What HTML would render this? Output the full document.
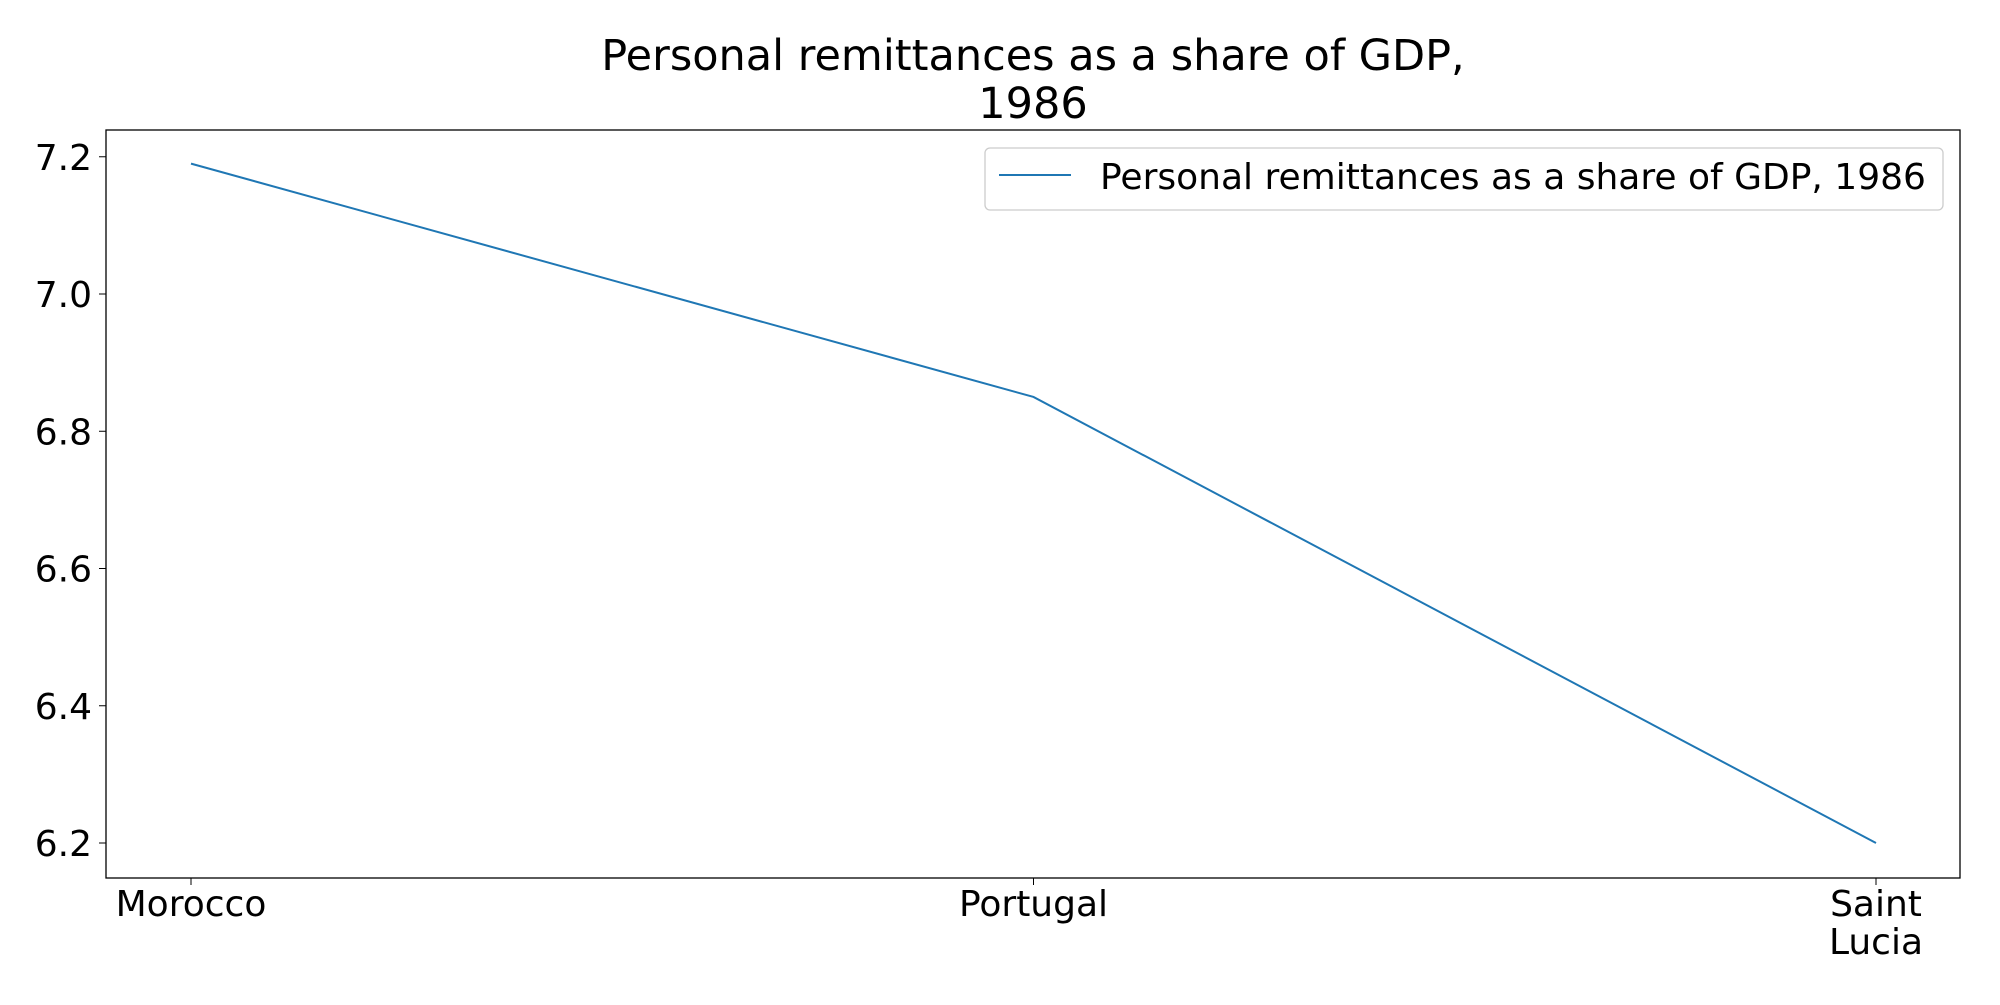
<!DOCTYPE html>
<html><head><meta charset="utf-8"><style>
body{margin:0;background:#fff;}
svg text{font-family:"DejaVu Sans","Liberation Sans",sans-serif;fill:#000;}
</style></head><body>
<svg width="2000" height="1000" xmlns="http://www.w3.org/2000/svg">
<text x="1033" y="70" font-size="43" text-anchor="middle">Personal remittances as a share of GDP,</text>
<text x="1033" y="118" font-size="43" text-anchor="middle">1986</text>
<rect x="106" y="130" width="1854" height="748" fill="none" stroke="#000" stroke-width="1.3"/>
<g id="yaxis"></g>
<g id="xaxis"></g>
<polyline id="series" fill="none" stroke="#1f77b4" stroke-width="2"/>
<g>
<rect x="985" y="148" width="958" height="62" rx="5" fill="#fff" stroke="#ccc" stroke-width="1.3"/>
<line x1="999" y1="175" x2="1071" y2="175" stroke="#1f77b4" stroke-width="2"/>
<text x="1100" y="189" font-size="36">Personal remittances as a share of GDP, 1986</text>
</g>
</svg>
<script>
const categories=[["Morocco"],["Portugal"],["Saint","Lucia"]];
const values=[7.19,6.85,6.2];
const yTicks=[6.2,6.4,6.6,6.8,7.0,7.2];
const yTickLabels=["6.2","6.4","6.6","6.8","7.0","7.2"];
const ns="http://www.w3.org/2000/svg";
const yMin=6.149,yMax=7.239,plotTop=130,plotBot=878;
function y(v){return plotBot-(v-yMin)/(yMax-yMin)*(plotBot-plotTop);}
const x0=191,x1=1876;
function x(i){return x0+i*(x1-x0)/(categories.length-1);}
const ya=document.getElementById('yaxis'),xa=document.getElementById('xaxis');
yTicks.forEach((t,i)=>{
 const l=document.createElementNS(ns,'line');
 l.setAttribute('x1',99);l.setAttribute('x2',106);l.setAttribute('y1',y(t));l.setAttribute('y2',y(t));l.setAttribute('stroke','#000');
 
 
 ya.appendChild(l);
 const tx=document.createElementNS(ns,'text');
 tx.setAttribute('x',92);tx.setAttribute('y',y(t)+13);tx.setAttribute('font-size','36');tx.setAttribute('text-anchor','end');
 tx.textContent=yTickLabels[i];
 
 
 ya.appendChild(tx);
});
categories.forEach((c,i)=>{
 const l=document.createElementNS(ns,'line');
 l.setAttribute('x1',x(i));l.setAttribute('x2',x(i));l.setAttribute('y1',878);l.setAttribute('y2',885);l.setAttribute('stroke','#000');
 
 
 xa.appendChild(l);
 c.forEach((s,j)=>{
  const tx=document.createElementNS(ns,'text');
  tx.setAttribute('x',x(i));tx.setAttribute('y',916+j*38);tx.setAttribute('font-size','36');tx.setAttribute('text-anchor','middle');
  tx.textContent=s;
  
  
  xa.appendChild(tx);
 });
});
document.getElementById('series').setAttribute('points',values.map((v,i)=>x(i)+','+y(v)).join(' '));
</script>
</body></html>
